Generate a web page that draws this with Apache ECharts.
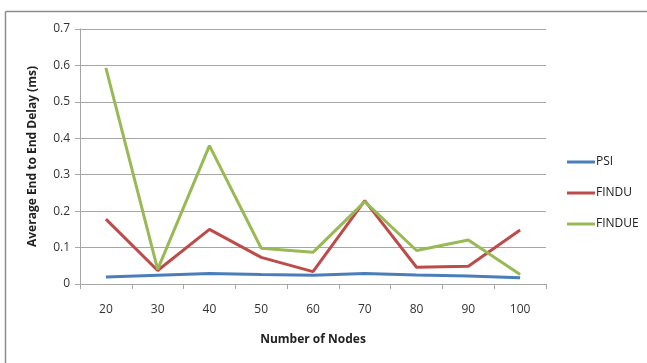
<!DOCTYPE html>
<html>
<head>
<meta charset="utf-8">
<script src="https://cdn.jsdelivr.net/npm/echarts@6/dist/echarts.min.js"></script>
<style>
  html, body { margin: 0; padding: 0; background: #fff; }
  #chart { width: 647px; height: 363px; }
</style>
</head>
<body>
<div id="chart"></div>
<script>
// Number of nodes on the x axis
const nodes = ['20', '30', '40', '50', '60', '70', '80', '90', '100'];
// Average end-to-end delay (ms) per protocol
const psi    = [0.019, 0.024, 0.029, 0.026, 0.024, 0.029, 0.025, 0.022, 0.017];
const findu  = [0.178, 0.037, 0.150, 0.073, 0.034, 0.229, 0.046, 0.049, 0.148];
const findue = [0.593, 0.040, 0.380, 0.098, 0.087, 0.226, 0.092, 0.121, 0.026];

const font = 'Open Sans, Liberation Sans, sans-serif';
const chart = echarts.init(document.getElementById('chart'));

function line(name, data, color) {
  return {
    name, type: 'line', data,
    symbol: 'none',
    lineStyle: { color, width: 3 },
    itemStyle: { color },
    emphasis: { disabled: true }
  };
}

chart.setOption({
  animation: false,
  backgroundColor: '#fff',
  grid: { left: 80, right: 101, top: 29, bottom: 79, containLabel: false },
  graphic: [
    { type: 'line', shape: { x1: 5.5, y1: 11.5, x2: 647, y2: 11.5 },
      style: { stroke: '#8c8c8c', lineWidth: 1.5 } },
    { type: 'line', shape: { x1: 5.5, y1: 11.5, x2: 5.5, y2: 363 },
      style: { stroke: '#8c8c8c', lineWidth: 1.5 } }
  ],
  legend: {
    orient: 'vertical',
    left: 562, top: 151,
    itemWidth: 28, itemHeight: 3, itemGap: 19,
    icon: 'rect',
    textStyle: { fontFamily: font, fontSize: 12, color: '#222', padding: [0, 0, 0, -4] },
    data: ['PSI', 'FINDU', 'FINDUE']
  },
  xAxis: {
    type: 'category',
    data: nodes,
    boundaryGap: true,
    name: 'Number of Nodes',
    nameLocation: 'middle',
    nameGap: 50,
    nameTextStyle: { fontFamily: font, fontSize: 12, fontWeight: 'bold', color: '#222' },
    axisLine: { lineStyle: { color: '#a6a6a6' } },
    axisTick: { show: true, length: 5, lineStyle: { color: '#a6a6a6' } },
    axisLabel: { fontFamily: font, fontSize: 12, color: '#333', margin: 20 },
    splitLine: { show: false }
  },
  yAxis: {
    type: 'value',
    min: 0, max: 0.7, interval: 0.1,
    name: 'Average End to End Delay (ms)',
    nameLocation: 'middle',
    nameGap: 41,
    nameRotate: 90,
    nameTextStyle: { fontFamily: font, fontSize: 12, fontWeight: 'bold', color: '#222' },
    axisLine: { show: true, lineStyle: { color: '#a6a6a6' } },
    axisTick: { show: true, length: 5, inside: false, lineStyle: { color: '#a6a6a6' } },
    axisLabel: {
      fontFamily: font, fontSize: 12, color: '#333', margin: 10,
      formatter: v => (v === 0 ? '0' : v.toFixed(1))
    },
    splitLine: { lineStyle: { color: '#a6a6a6', width: 1 } }
  },
  series: [
    line('PSI', psi, '#4a7ebb'),
    line('FINDU', findu, '#be4b48'),
    line('FINDUE', findue, '#98b954')
  ]
});
</script>
</body>
</html>
